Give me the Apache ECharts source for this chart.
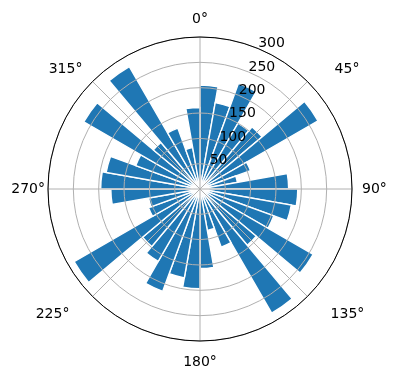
<!DOCTYPE html>
<html><head><meta charset="utf-8">
<script src="https://cdn.jsdelivr.net/npm/echarts@6/dist/echarts.min.js"></script>
<style>html,body{margin:0;padding:0;background:#fff}#c{width:396px;height:380px}</style>
</head><body><div id="c"></div>
<script>
// bin start angles (degrees, clockwise from north), each 10 degrees wide
const binAngles = [0,10,20,30,40,50,60,70,80,90,100,110,120,130,140,150,160,170,
                   180,190,200,210,220,230,240,250,260,270,280,290,300,310,320,330,340,350];
// bar lengths (radial values)
const barValues = [205,173,222,150,160,269,106,75,175,193,183,155,258,145,283,122,83,157,
                   197,178,215,165,148,287,108,103,176,196,188,135,265,120,279,128,83,161];
// angle tick labels every 45 degrees
const angleTicks = [0,45,90,135,180,225,270,315];
const angleTickLabels = ['0°','45°','90°','135°','180°','225°','270°','315°'];
// radial tick labels
const radiusTicks = [50,100,150,200,250,300];

// per-label text offsets (padding) for the angle labels: [top,right,bottom,left]
const angleLabelPad = {
  a0:[0,0,8,0], a45:[0,0,3,25], a90:[0,0,0,7], a135:[9,0,0,21],
  a180:[11,0,0,0], a225:[9,21,0,0], a270:[0,0,0,0], a315:[0,8,3,0]
};

const chart = echarts.init(document.getElementById('c'), null, {renderer:'canvas'});
const FONT = 'DejaVu Sans';
const C = [200, 189], R = 152;
const rich = {};
Object.keys(angleLabelPad).forEach(k => {
  rich[k] = {padding: angleLabelPad[k], color:'#000', fontFamily:FONT, fontSize:14};
});
const option = {
  animation: false,
  backgroundColor: '#fff',
  polar: [
    {center: C, radius: R},
    {center: C, radius: R},
    {center: C, radius: R}
  ],
  angleAxis: [
    {polarIndex:0, type:'category', data: binAngles.map(String), startAngle:90, clockwise:true,
     boundaryGap:true, show:false},
    {polarIndex:1, type:'value', min:0, max:360, interval:45, startAngle:90, clockwise:true, z:5,
     axisLine:{show:true, lineStyle:{color:'#000', width:1}},
     axisTick:{show:false},
     splitLine:{show:true, lineStyle:{color:'#b0b0b0', width:1}},
     axisLabel:{show:true, margin:3, color:'#000', fontFamily:FONT, fontSize:14, rich: rich,
       formatter: v => { const i = angleTicks.indexOf(v); return i >= 0 ? '{a' + v + '|' + angleTickLabels[i] + '}' : ''; }}},
    {polarIndex:2, type:'value', min:0, max:360, startAngle:67.5, clockwise:true, show:false}
  ],
  radiusAxis: [
    {polarIndex:0, type:'value', min:0, max:300, show:false},
    {polarIndex:1, type:'value', min:0, max:300, interval:50, z:5,
     axisLine:{show:false}, axisTick:{show:false}, axisLabel:{show:false},
     splitLine:{show:true, lineStyle:{color:'#b0b0b0', width:1}}},
    {polarIndex:2, type:'value', min:0, max:300, interval:50, z:6,
     axisLine:{show:false}, axisTick:{show:false}, splitLine:{show:false},
     axisLabel:{show:true, showMinLabel:false, color:'#000', fontFamily:FONT, fontSize:14, margin:0,
       align:'left', verticalAlign:'bottom', lineHeight:10,
       formatter: v => radiusTicks.indexOf(v) >= 0 ? String(v) : ''}}
  ],
  series: [{
    type:'bar', coordinateSystem:'polar', polarIndex:0, data: barValues,
    barCategoryGap:'0%', z:2,
    itemStyle:{color:'#1f77b4', borderColor:'#fff', borderWidth:1.4}
  }]
};
chart.setOption(option);
</script></body></html>
